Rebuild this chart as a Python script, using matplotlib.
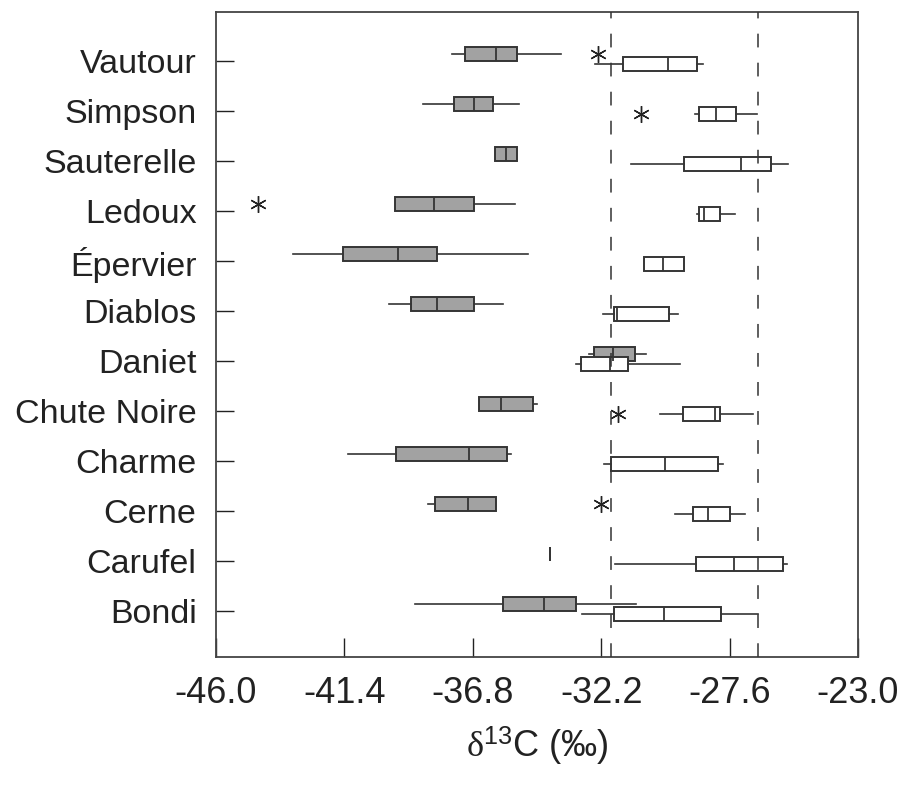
import matplotlib
matplotlib.use('Agg')
import matplotlib.pyplot as plt

plt.rcParams['font.family'] = ['Liberation Sans', 'DejaVu Sans']
plt.rcParams['mathtext.fontset'] = 'custom'
plt.rcParams['mathtext.rm'] = 'Liberation Serif'
plt.rcParams['mathtext.sf'] = 'Liberation Sans'
plt.rcParams['mathtext.default'] = 'rm'

# lakes, top to bottom
lakes = ['Vautour', 'Simpson', 'Sauterelle', 'Ledoux', 'Épervier', 'Diablos',
         'Daniet', 'Chute Noire', 'Charme', 'Cerne', 'Carufel', 'Bondi']

# grey boxes: whisker low, Q1, median, Q3, whisker high
grey_lo = [-37.56, -38.60, -36.02, -39.57, -43.25, -39.81, -32.64, -36.57, -41.28, -38.42, -34.03, -38.88]
grey_q1 = [-37.07, -37.49, -36.02, -39.57, -41.45, -39.01, -32.45, -36.57, -39.54, -38.17, -34.03, -35.72]
grey_med = [-35.96, -36.74, -35.62, -38.20, -39.49, -38.09, -31.77, -35.80, -36.95, -36.98, -34.03, -34.24]
grey_q3 = [-35.20, -36.09, -35.22, -36.77, -38.09, -36.75, -31.00, -34.66, -35.56, -35.98, -34.03, -33.11]
grey_hi = [-33.64, -35.16, -35.22, -35.28, -34.83, -35.73, -30.58, -34.51, -35.43, -35.98, -34.03, -30.95]
grey_out = [[-32.30], [], [], [-44.49], [], [], [], [], [], [-32.19], [], []]

# white boxes
white_lo = [-32.42, -28.85, -31.15, -28.76, -30.67, -32.15, -33.12, -30.10, -32.09, -29.54, -31.70, -32.87]
white_q1 = [-31.43, -28.69, -29.24, -28.70, -30.67, -31.74, -32.92, -29.26, -31.86, -28.90, -28.82, -31.73]
white_med = [-29.80, -28.07, -27.18, -28.51, -29.98, -31.62, -31.89, -28.11, -29.90, -28.37, -27.44, -29.95]
white_q3 = [-28.75, -27.38, -26.11, -27.93, -29.24, -29.78, -31.23, -27.93, -28.01, -27.59, -25.69, -27.91]
white_hi = [-28.55, -26.62, -25.50, -27.41, -29.24, -29.44, -29.38, -26.76, -27.83, -27.05, -25.53, -26.58]
white_out = [[], [-30.77], [], [], [], [], [], [-31.59], [], [], [], []]

ref_lines = [-31.85, -26.6]
xticks = [-46.0, -41.4, -36.8, -32.2, -27.6, -23.0]
xtick_labels = ['-46.0', '-41.4', '-36.8', '-32.2', '-27.6', '-23.0']


def make_stats(lo, q1, med, q3, hi, out):
    return [dict(whislo=a, q1=b, med=c, q3=d, whishi=e, fliers=f)
            for a, b, c, d, e, f in zip(lo, q1, med, q3, hi, out)]


fig = plt.figure(figsize=(9.12, 7.86), dpi=100)
ax = fig.add_axes([0.2368, 0.1641, 0.704, 0.8206])

pos = list(range(1, len(lakes) + 1))
edge = '#353535'
star = dict(marker=(6, 2, 0), markersize=12, markeredgecolor='#222222',
            markeredgewidth=1.0, linestyle='none')

ax.bxp(make_stats(grey_lo, grey_q1, grey_med, grey_q3, grey_hi, grey_out),
       positions=[p - 0.15 for p in pos], widths=0.28, orientation='horizontal',
       patch_artist=True, showcaps=False,
       boxprops=dict(facecolor='#a2a2a2', edgecolor=edge, linewidth=1.4),
       medianprops=dict(color=edge, linewidth=1.3),
       whiskerprops=dict(color=edge, linewidth=1.2),
       flierprops=star, manage_ticks=False)

ax.bxp(make_stats(white_lo, white_q1, white_med, white_q3, white_hi, white_out),
       positions=[p + 0.06 for p in pos], widths=0.28, orientation='horizontal',
       patch_artist=True, showcaps=False,
       boxprops=dict(facecolor='white', edgecolor=edge, linewidth=1.4),
       medianprops=dict(color=edge, linewidth=1.3),
       whiskerprops=dict(color=edge, linewidth=1.2),
       flierprops=star, manage_ticks=False)

for v in ref_lines:
    ax.axvline(v, color='#333333', linewidth=1.1, linestyle=(0, (9, 10)), zorder=5)

ax.set_xlim(-46.0, -23.0)
ax.set_ylim(12.92, 0.02)
ax.set_xticks(xticks)
ax.set_xticklabels(xtick_labels)
ax.set_yticks(pos)
ax.set_yticklabels(lakes)

ax.tick_params(axis='x', direction='in', length=14, width=1, pad=14,
               labelsize=26, colors='#222222')
ax.tick_params(axis='y', direction='in', length=13, width=1, pad=14,
               labelsize=24.5, colors='#222222')
for s in ax.spines.values():
    s.set_linewidth(1.3)
    s.set_color('#444444')

ax.set_xlabel(r'$\delta^{\mathsf{13}}$C (‰)', fontsize=26, labelpad=10, color='#222222')

fig.savefig('out.png', dpi=100)
